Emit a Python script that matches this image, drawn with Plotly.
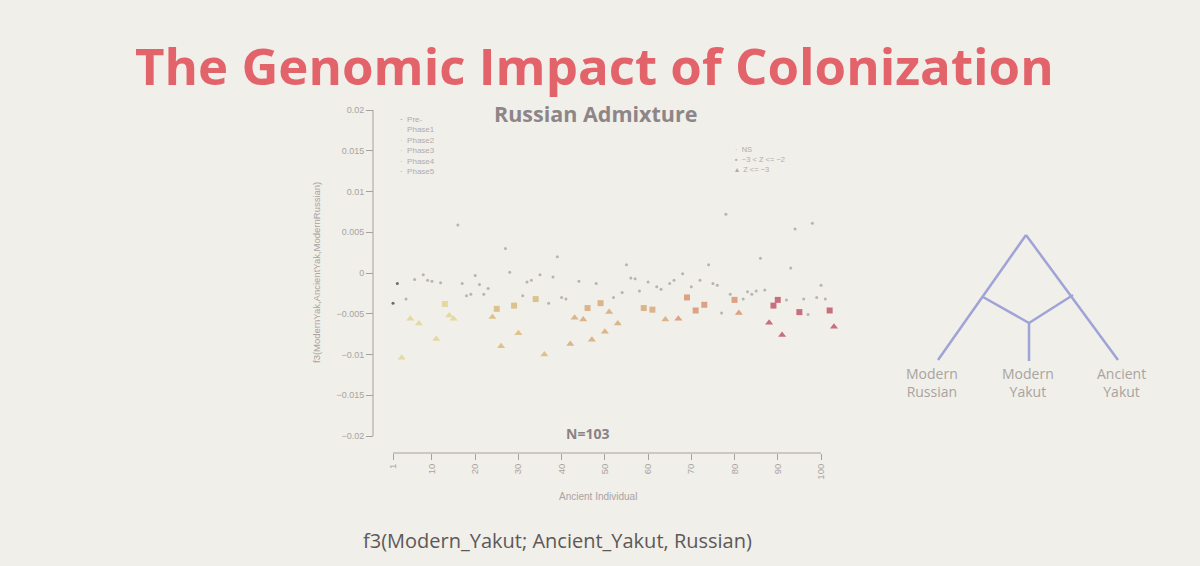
import plotly.graph_objects as go

# ---------------- data ----------------
individual = list(range(1, 104))
f3_value = [
    -0.0037, -0.0013, -0.0104, -0.0032, -0.0056, -0.0008, -0.0062, -0.0002, -0.0009, -0.0010,
    -0.0081, -0.0012, -0.0038, -0.0052, -0.0056, 0.0059, -0.0013, -0.0028, -0.0026, -0.0003,
    -0.0014, -0.0026, -0.0019, -0.0054, -0.0044, -0.0090, 0.0030, 0.0001, -0.0040, -0.0074,
    -0.0028, -0.0011, -0.0009, -0.0032, -0.0002, -0.0100, -0.0037, -0.0005, 0.0020, -0.0030,
    -0.0032, -0.0087, -0.0055, -0.0010, -0.0057, -0.0043, -0.0082, -0.0013, -0.0037, -0.0072,
    -0.0048, -0.0030, -0.0062, -0.0024, 0.0010, -0.0006, -0.0007, -0.0022, -0.0043, -0.0011,
    -0.0045, -0.0017, -0.0020, -0.0057, -0.0013, -0.0009, -0.0056, -0.0001, -0.0030, -0.0017,
    -0.0046, -0.0009, -0.0039, 0.0010, -0.0013, -0.0015, -0.0049, 0.0072, -0.0026, -0.0033,
    -0.0049, -0.0032, -0.0023, -0.0026, -0.0022, 0.0018, -0.0021, -0.0061, -0.0040, -0.0033,
    -0.0076, -0.0033, 0.0006, 0.0054, -0.0048, -0.0032, -0.0051, 0.0061, -0.0030, -0.0015,
    -0.0032, -0.0046, -0.0066,
]
z_class = (
    "NNSNSNSNNN"
    "SNMSSNNNNN"
    "NNNSMSNNMS"
    "NNNMNSNNNN"
    "NSSNSMSNMS"
    "SNSNNNNNMN"
    "MNNSNNSNMN"
    "MNMNNNNNNM"
    "SNNNNNNSMM"
    "SNNNMNNNNN"
    "NMS"
)
phase_names = ["Pre-", "Phase1", "Phase2", "Phase3", "Phase4", "Phase5"]
phase_counts = [2, 18, 21, 24, 21, 17]
phase_colors = ["#6e6870", "#e4d9a2", "#dcc38e", "#dcb48a", "#dca283", "#c86f7e"]

z_codes = ["N", "M", "S"]
z_names = {"N": "NS", "M": "\u22123 < Z <= \u22122", "S": "Z <= \u22123"}
z_symbols = {"N": "circle", "M": "square", "S": "triangle-up"}
z_keys = {"N": "\u00b7", "M": "\u25aa", "S": "\u25b4"}
z_sizes = {"N": 3, "M": 6, "S": 7}

x_ticks = [1, 10, 20, 30, 40, 50, 60, 70, 80, 90, 100]
y_ticks = [0.02, 0.015, 0.01, 0.005, 0, -0.005, -0.01, -0.015, -0.02]
y_ticktext = ["0.02", "0.015", "0.01", "0.005", "0", "\u22120.005", "\u22120.01", "\u22120.015", "\u22120.02"]

# phase per individual
point_phase = []
for name, n in zip(phase_names, phase_counts):
    point_phase += [name] * n

W, H = 1200, 566
BG = "#f0efe9"
def px(x):
    return x / W
def py(y):
    return 1 - y / H

fig = go.Figure()

# data traces by significance class
for code in z_codes:
    xs, ys, cs = [], [], []
    for i, v, z, ph in zip(individual, f3_value, z_class, point_phase):
        if z == code:
            xs.append(i)
            ys.append(v)
            col = phase_colors[phase_names.index(ph)]
            if code == "N" and ph != "Pre-":
                col = "#b9b3b2"
            cs.append(col)
    fig.add_trace(go.Scatter(
        x=xs, y=ys, mode="markers", name=z_names[code],
        marker=dict(symbol=z_symbols[code], size=z_sizes[code], color=cs, line=dict(width=0)),
        hoverinfo="x+y",
    ))

axis_col = "#a8a09e"
fig.update_layout(
    width=W, height=H,
    margin=dict(l=0, r=0, t=0, b=0),
    paper_bgcolor=BG,
    plot_bgcolor="rgba(0,0,0,0)",
    font=dict(family="Liberation Sans, Arial, sans-serif", color=axis_col),
    showlegend=False,
    xaxis=dict(
        domain=[px(373), px(845)],
        range=[-3.63, 105.55],
        anchor="free", position=py(453),
        tickvals=x_ticks, ticktext=[str(t) for t in x_ticks],
        tickangle=-90, ticks="outside", ticklen=6, tickcolor=axis_col, tickwidth=1,
        tickfont=dict(size=9.5, color="#aaa3a1"),
        showgrid=False, zeroline=False, showline=False,
    ),
    yaxis=dict(
        domain=[py(460), py(100)],
        range=[-0.022945, 0.021227],
        anchor="free", position=px(373),
        tickvals=y_ticks, ticktext=y_ticktext,
        ticks="outside", ticklen=7, tickcolor=axis_col, tickwidth=1,
        tickfont=dict(size=9, color="#aaa3a1"),
        showgrid=False, zeroline=False, showline=False,
    ),
)

# axis lines in R style (only across tick span)
fig.add_shape(type="line", xref="x", yref="paper", x0=1, x1=100, y0=py(453), y1=py(453),
              line=dict(color=axis_col, width=1))
fig.add_shape(type="line", xref="paper", yref="y", x0=px(373), x1=px(373), y0=-0.02, y1=0.02,
              line=dict(color=axis_col, width=1))

def note(text, x, y, size, color, family="Open Sans, sans-serif", xanchor="center",
         yanchor="middle", align="center", angle=0):
    fig.add_annotation(text=text, x=px(x), y=py(y), xref="paper", yref="paper",
                       showarrow=False, xanchor=xanchor, yanchor=yanchor, align=align,
                       textangle=angle, font=dict(family=family, size=size, color=color))

# texts
note("<b>The Genomic Impact of Colonization</b>", 594, 65, 51, "#e3636a")
note("<b>Russian Admixture</b>", 595, 113.5, 21.5, "#8d8587")
note("<b>N=103</b>", 587, 433, 14, "#8a8284")
note("Ancient Individual", 598, 496, 10, "#aaa3a1", family="Liberation Sans, Arial, sans-serif")
note("f3(ModernYak,AncientYak,ModernRussian)", 316, 272, 9.5, "#aaa3a1",
     family="Liberation Sans, Arial, sans-serif", angle=-90)
note("f3(Modern_Yakut; Ancient_Yakut, Russian)", 557, 540, 20, "#5e5858")

# legends (R-style compact keys)
phase_lines = [
    f"<span style='color:{c}'>\u00b7</span>  {n}" for n, c in zip(phase_names, phase_colors)
]
note("<br>".join(phase_lines), 398, 113, 8, "#b3abaa",
     family="Liberation Sans, Arial, sans-serif", xanchor="left", yanchor="top", align="left")
z_lines = [f"{z_keys[c]}  {z_names[c]}" for c in z_codes]
note("<br>".join(z_lines), 733, 143, 7.5, "#b3abaa",
     family="Liberation Sans, Arial, sans-serif", xanchor="left", yanchor="top", align="left")

# tree diagram (illustration)
tree_col = "#9fa3d6"
tree_lines = [
    ((1026, 235), (938, 360)),
    ((1026, 235), (1118, 360)),
    ((983, 297), (1029, 323)),
    ((1073, 295), (1029, 323)),
    ((1029, 323), (1029, 361)),
]
for (x0, y0), (x1, y1) in tree_lines:
    fig.add_shape(type="line", xref="paper", yref="paper",
                  x0=px(x0), y0=py(y0), x1=px(x1), y1=py(y1),
                  line=dict(color=tree_col, width=2.5))
tree_labels = [("Modern<br>Russian", 932), ("Modern<br>Yakut", 1028), ("Ancient<br>Yakut", 1121)]
for lab, x in tree_labels:
    note(lab, x, 382, 14, "#aaa3a1")

fig.write_html("out.html", config={"displayModeBar": False},
               post_script=f"document.body.style.margin='0px';document.body.style.background='{BG}';")
